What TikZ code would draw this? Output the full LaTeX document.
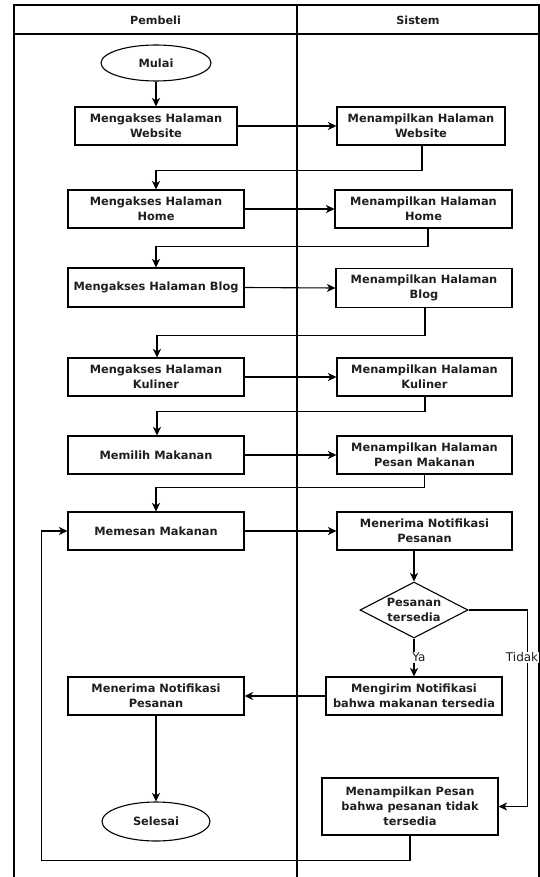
\documentclass[tikz,border=0pt]{standalone}
\usepackage{fontspec}
\setmainfont{DejaVu Sans}
\usetikzlibrary{shapes.geometric,arrows.meta}

\tikzset{
  every node/.style={text=black!88},
  lane/.style={draw=black, line width=1.1pt},
  hdr/.style={font=\bfseries\fontsize{11.2}{14}\selectfont, inner sep=0pt},
  proc/.style={draw=black, line width=1.1pt, rectangle, align=center, inner sep=0pt,
    font=\bfseries\fontsize{11.4}{15}\selectfont, minimum width=176pt, minimum height=38pt},
  term/.style={draw=black, line width=1.1pt, ellipse, inner sep=0pt,
    font=\bfseries\fontsize{11.4}{15}\selectfont},
  decision/.style={draw=black, line width=1.1pt, diamond, inner sep=0pt,
    minimum width=108pt, minimum height=56pt},
  dtext/.style={align=center, inner sep=0pt, font=\bfseries\fontsize{11.4}{15}\selectfont},
  lbl/.style={fill=white, inner sep=1pt, font=\fontsize{12}{14}\selectfont},
  arr/.style={draw=black, line width=1.1pt,
    -{Stealth[length=8.5pt,width=8pt,inset=2.4pt]}},
}

\begin{document}
\begin{tikzpicture}[x=1pt,y=-1pt]
\useasboundingbox (0,0) rectangle (540,877);

% swimlane frame with two lanes
\draw[lane] (14,877) -- (14,5) -- (539,5) -- (539,877);
\draw[lane] (14,34) -- (539,34);
\draw[lane] (297,5) -- (297,877);
\node[hdr] (hpembeli) at (155.5,20) {Pembeli};
\node[hdr] (hsistem) at (418,20) {Sistem};

% Pembeli lane
\node[term, minimum width=110pt, minimum height=36pt] (mulai) at (156,63) {Mulai};
\node[proc, minimum width=162pt] (b1) at (156,126) {Mengakses Halaman\\Website};
\node[proc] (b2) at (156,209) {Mengakses Halaman\\Home};
\node[proc, minimum height=39pt] (b3) at (156,287.5) {Mengakses Halaman Blog};
\node[proc] (b4) at (156,377) {Mengakses Halaman\\Kuliner};
\node[proc] (b5) at (156,455) {Memilih Makanan};
\node[proc] (b6) at (156,531) {Memesan Makanan};
\node[proc] (b7) at (156,696) {Menerima Notifikasi\\Pesanan};
\node[term, minimum width=108pt, minimum height=39pt] (selesai) at (156,821.5) {Selesai};

% Sistem lane
\node[proc, minimum width=168pt] (s1) at (421,126) {Menampilkan Halaman\\Website};
\node[proc, minimum width=177pt] (s2) at (423.5,209) {Menampilkan Halaman\\Home};
\node[proc, minimum height=39pt] (s3) at (424,288) {Menampilkan Halaman\\Blog};
\node[proc, minimum width=175pt] (s4) at (424.5,377) {Menampilkan Halaman\\Kuliner};
\node[proc, minimum width=175pt] (s5) at (424.5,455) {Menampilkan Halaman\\Pesan Makanan};
\node[proc, minimum width=175pt] (s6) at (424.5,531) {Menerima Notifikasi\\Pesanan};
\node[decision] (d) at (414,610) {};
\node[dtext] (dt) at (d) {Pesanan\\tersedia};
\node[proc] (s7) at (414,696) {Mengirim Notifikasi\\bahwa makanan tersedia};
\node[proc, minimum height=57pt] (s8) at (410,806.5) {Menampilkan Pesan\\bahwa pesanan tidak\\tersedia};

% flow
\draw[arr] (mulai.south) -- (b1.north);
\draw[arr] (b1.east) -- (s1.west);
\draw[arr] ([xshift=1pt]s1.south) -- ++(0,25) -| (b2.north);
\draw[arr] (b2.east) -- (s2.west);
\draw[arr] ([xshift=4.5pt]s2.south) -- ++(0,17.5) -| (b3.north);
\draw[arr] (b3.east) -- (s3.west);
\draw[arr] ([xshift=1pt]s3.south) -- ++(0,27) -| ([xshift=1pt]b4.north);
\draw[arr] (b4.east) -- (s4.west);
\draw[arr] ([xshift=0.5pt]s4.south) -- ++(0,15) -| ([xshift=1pt]b5.north);
\draw[arr] (b5.east) -- (s5.west);
\draw[arr] (s5.south) -- ++(0,13) -| (b6.north);
\draw[arr] (b6.east) -- (s6.west);
\draw[arr] (s6.south -| d.north) -- (d.north);
\draw[arr] (d.south) -- node[lbl, pos=0.5, xshift=5pt] {Ya} (s7.north);
\draw[arr] (d.east) -- ++(59,0) -- ++(0,196.5) node[lbl, pos=0.24, xshift=-5.5pt] {Tidak} -- (s8.east);
\draw[arr] (s7.west) -- (b7.east);
\draw[arr] (b7.south) -- (selesai.north);
\draw[arr] (s8.south) -- ++(0,24.5) -| ([xshift=-26pt]b6.west) -- (b6.west);
\end{tikzpicture}
\end{document}
